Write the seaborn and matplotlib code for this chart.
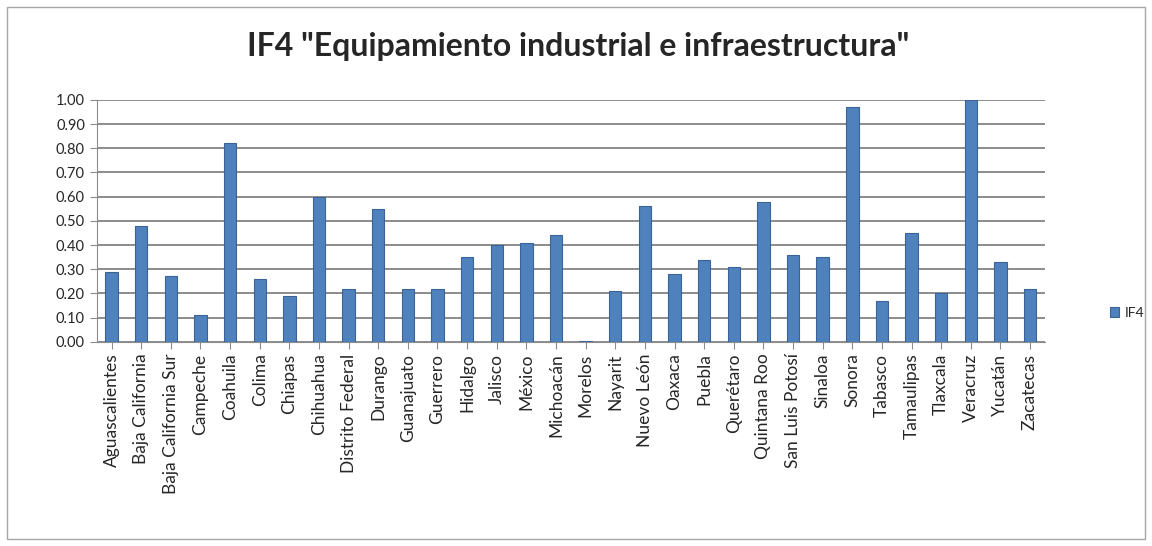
import pandas as pd
import matplotlib.pyplot as plt
import seaborn as sns
from matplotlib.patches import Rectangle
from matplotlib.ticker import FormatStrFormatter

# Estados y valores del indicador IF4
estados = [
    "Aguascalientes", "Baja California", "Baja California Sur", "Campeche",
    "Coahuila", "Colima", "Chiapas", "Chihuahua", "Distrito Federal",
    "Durango", "Guanajuato", "Guerrero", "Hidalgo", "Jalisco", "México",
    "Michoacán", "Morelos", "Nayarit", "Nuevo León", "Oaxaca", "Puebla",
    "Querétaro", "Quintana Roo", "San Luis Potosí", "Sinaloa", "Sonora",
    "Tabasco", "Tamaulipas", "Tlaxcala", "Veracruz", "Yucatán", "Zacatecas",
]
if4 = [
    0.29, 0.48, 0.27, 0.11, 0.82, 0.26, 0.19, 0.60, 0.22, 0.55, 0.22,
    0.22, 0.35, 0.40, 0.41, 0.44, 0.003, 0.21, 0.56, 0.28, 0.34, 0.31,
    0.58, 0.36, 0.35, 0.97, 0.17, 0.45, 0.20, 1.00, 0.33, 0.22,
]
y_ticks = [i / 10 for i in range(11)]

data = pd.DataFrame({"Estado": estados, "IF4": if4})

sns.set_style("white")
plt.rcParams["font.family"] = ["Lato", "DejaVu Sans"]

fig = plt.figure(figsize=(11.52, 5.46), dpi=100)
ax = fig.add_axes([0.084, 0.374, 0.823, 0.443])

# borde del área del gráfico
fig.patches.append(Rectangle((0.006, 0.012), 0.988, 0.975, transform=fig.transFigure,
                             fill=False, edgecolor="#A6A6A6", linewidth=1.0))

sns.barplot(data=data, x="Estado", y="IF4", color="#4F81BD", saturation=1, width=0.42,
            edgecolor="#3A6496", linewidth=0.8, ax=ax, label="IF4", zorder=3)

ax.set_ylim(0, 1.0)
ax.set_yticks(y_ticks)
ax.yaxis.set_major_formatter(FormatStrFormatter("%.2f"))
ax.set_xlim(-0.5, len(estados) - 0.5)
ax.grid(axis="y", color="#8C8C8C", linewidth=1.4, zorder=0)
ax.set_axisbelow(True)

for side in ["top", "right"]:
    ax.spines[side].set_visible(False)
ax.spines["left"].set_color("#8C8C8C")
ax.spines["bottom"].set_color("#8C8C8C")

ax.tick_params(axis="x", rotation=90, labelsize=12.5, length=5, color="#8C8C8C",
               direction="out", bottom=True)
ax.tick_params(axis="y", labelsize=10.5, length=5, color="#8C8C8C", direction="out", left=True)
ax.set_xlabel("")
ax.set_ylabel("")

fig.text(0.502, 0.915, 'IF4 "Equipamiento industrial e infraestructura"',
         ha="center", va="center", fontsize=23, fontweight="bold")

ax.legend(loc="center left", bbox_to_anchor=(1.055, 0.12), frameon=False,
          fontsize=10, handlelength=0.7, handleheight=0.7, handletextpad=0.4)

plt.savefig("out.png", dpi=100)
